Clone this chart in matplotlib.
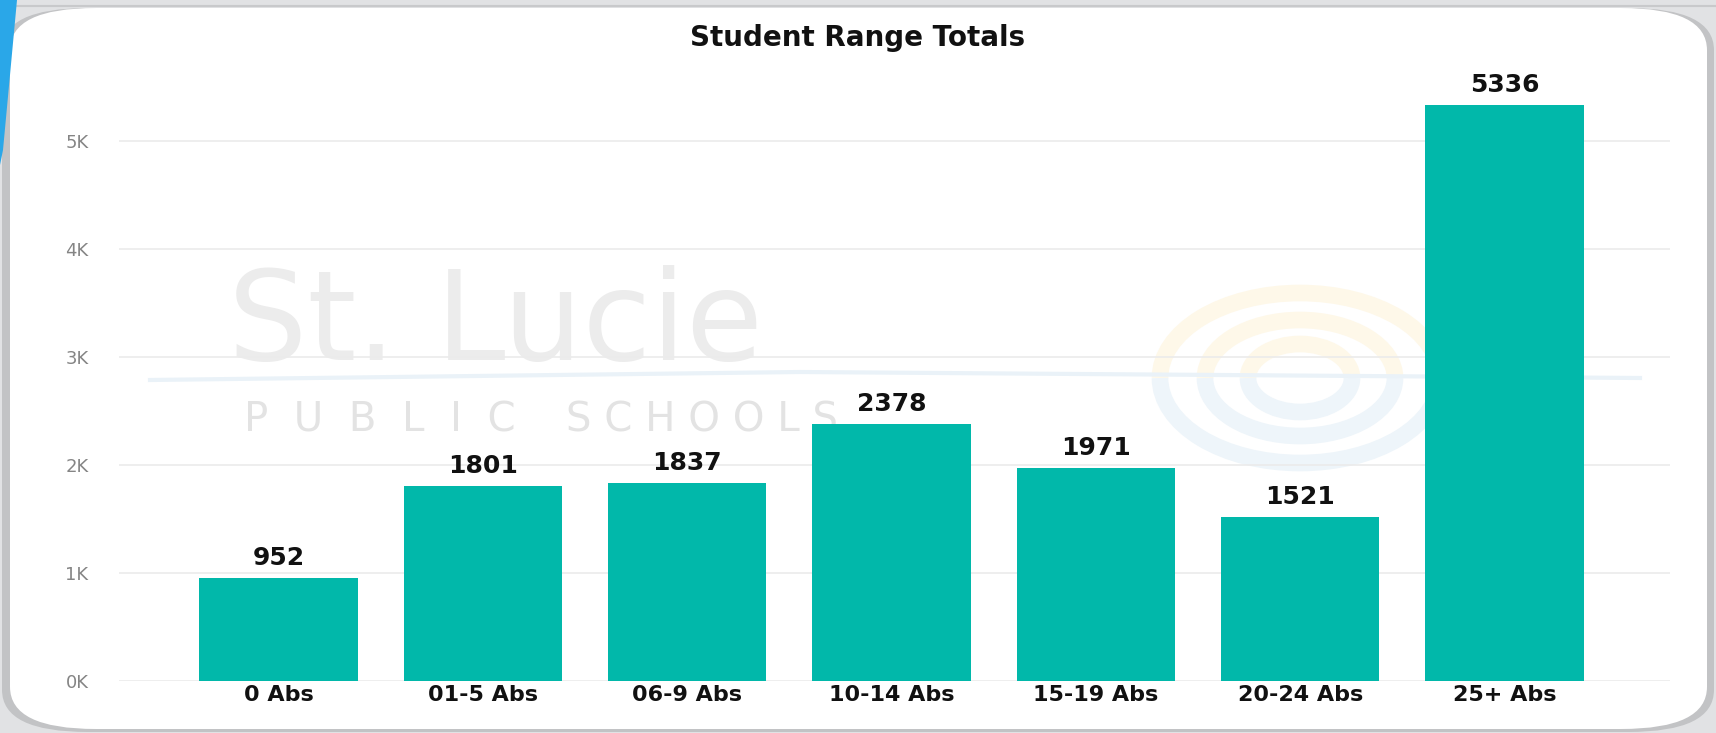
import numpy as np
import matplotlib
matplotlib.use("Agg")
import matplotlib.pyplot as plt
from matplotlib.patches import FancyBboxPatch, Polygon, Arc
from matplotlib.lines import Line2D
from matplotlib.ticker import FuncFormatter

plt.rcParams["font.family"] = "DejaVu Sans"

categories = ["0 Abs", "01-5 Abs", "06-9 Abs", "10-14 Abs", "15-19 Abs", "20-24 Abs", "25+ Abs"]
totals = [952, 1801, 1837, 2378, 1971, 1521, 5336]
yticks = [0, 1000, 2000, 3000, 4000, 5000]

W, H = 1716, 733
fig = plt.figure(figsize=(W / 100, H / 100), dpi=100)
fig.patch.set_facecolor("#e1e2e4")

def fx(px):
    return px / W

def fy(py):
    # py measured from the top of the picture
    return 1 - py / H

# rounded white card like the screenshot (gray shadow behind it)
shadow = FancyBboxPatch((fx(2), fy(732)), fx(1712), 724 / H,
                        boxstyle="round,pad=0,rounding_size=0.05",
                        transform=fig.transFigure, facecolor="#c2c3c5",
                        edgecolor="none", mutation_aspect=1.15, zorder=0)
card = FancyBboxPatch((fx(10), fy(729)), fx(1697), 721 / H,
                      boxstyle="round,pad=0,rounding_size=0.05",
                      transform=fig.transFigure, facecolor="white",
                      edgecolor="none", mutation_aspect=1.15, zorder=1)
fig.patches.extend([shadow, card])
fig.add_artist(Line2D([0, 1], [fy(6), fy(6)], transform=fig.transFigure,
                      color="#c8c9cb", lw=1.5, zorder=0.5))
streak = Polygon([(0, 1), (fx(17), 1), (fx(3), fy(150)), (0, fy(165))],
                 closed=True, transform=fig.transFigure, facecolor="#2aa7e8",
                 edgecolor="none", zorder=2)
fig.patches.append(streak)

# faint watermark (logo rings, swoosh, school name)
cx, cy = fx(1300), fy(378)
for rx, ry in [(140, 85), (95, 58), (52, 34)]:
    fig.add_artist(Arc((cx, cy), 2 * rx / W, 2 * ry / H, theta1=0, theta2=180,
                       transform=fig.transFigure, color="#fef8e9", lw=12, zorder=1.5))
    fig.add_artist(Arc((cx, cy), 2 * rx / W, 2 * ry / H, theta1=180, theta2=360,
                       transform=fig.transFigure, color="#eef5fa", lw=12, zorder=1.5))
fig.add_artist(Line2D([fx(150), fx(800), fx(1640)], [fy(380), fy(372), fy(378)],
                      transform=fig.transFigure, color="#eaf2f8", lw=3, zorder=1.6))
fig.text(fx(228), fy(360), "St. Lucie", fontsize=90, color="#ececec", zorder=1.7)
fig.text(fx(244), fy(432), "P  U  B  L  I  C", fontsize=29, color="#e3e3e3", zorder=1.7)
fig.text(fx(566), fy(432), "S C H O O L S", fontsize=29, color="#e3e3e3", zorder=1.7)

# axes placement in pixels
left, right, bottom = 119, 1670, H - 681
ymax = 5500
top = 681 - ymax / 1000 * 108
ax = fig.add_axes([left / W, bottom / H, (right - left) / W, (H - top - bottom) / H])
ax.set_facecolor("none")
ax.set_zorder(3)

x = np.arange(len(categories))
bars = ax.bar(x, totals, width=0.775, color="#01b8aa", zorder=3)
for b, v in zip(bars, totals):
    ax.text(b.get_x() + b.get_width() / 2, v + 75, str(v), ha="center", va="bottom",
            fontsize=18, fontweight="bold", color="#111111")

ax.set_xlim(-0.78, 6.81)
ax.set_ylim(0, ymax)
ax.set_yticks(yticks)
ax.yaxis.set_major_formatter(FuncFormatter(lambda v, p: f"{int(v / 1000)}K"))
ax.grid(axis="y", color="#ebebeb", linewidth=1.2, zorder=0)
ax.set_axisbelow(True)
for s in ax.spines.values():
    s.set_visible(False)
ax.tick_params(axis="both", length=0)
ax.tick_params(axis="y", labelsize=13, labelcolor="#858585", pad=22)
ax.set_xticks(x)
ax.set_xticklabels(categories, fontsize=16, fontweight="bold", color="#111111")
ax.tick_params(axis="x", pad=3)

fig.text(0.5, fy(38), "Student Range Totals", ha="center", va="center",
         fontsize=20, fontweight="bold", color="#111111", zorder=4)

fig.savefig("out.png", dpi=100, facecolor=fig.get_facecolor())
